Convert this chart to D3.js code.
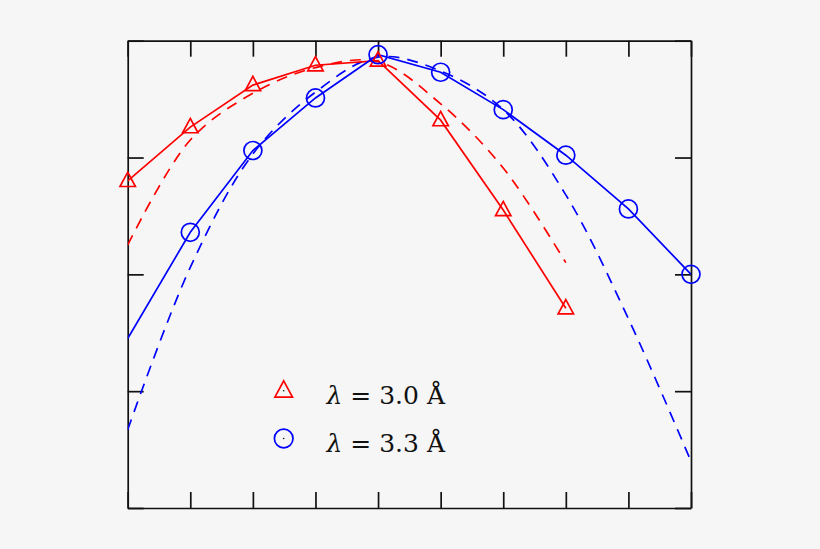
<!DOCTYPE html>
<html>
<head>
<meta charset="utf-8">
<script src="https://cdn.jsdelivr.net/npm/d3@7"></script>
<style>
  html, body { margin: 0; padding: 0; background: #f6f6f6; }
  svg { display: block; }
</style>
</head>
<body>
<div id="chart"></div>
<script>
// positions along x (no tick labels in the figure)
const xs = [0, 1, 2, 3, 4, 5, 6, 7, 8, 9];
const yTicks = [0, 1, 2, 3, 4];

// lambda = 3.0 A : markers + solid line, and the dashed companion
const red3Solid  = [2.80, 3.26, 3.62, 3.79, 3.83, 3.32, 2.55, 1.71];
const red3Dashed = [2.25, 3.15, 3.55, 3.77, 3.82, 3.46, 2.91, 2.10];

// lambda = 3.3 A
const blue33Solid  = [1.45, 2.36, 3.06, 3.51, 3.88, 3.73, 3.41, 3.02, 2.56, 2.00];
const blue33Dashed = [0.67, 2.06, 3.03, 3.56, 3.86, 3.74, 3.41, 2.68, 1.62, 0.40];

const legendLabels = ['3.0', '3.3'];

const W = 820, H = 549;
const pLeft = 127.7, pRight = 691, pTop = 40.7, pBottom = 508;
const red = '#ff0000', blue = '#0000ff';
const lw = 1.7;

const svg = d3.select('#chart').append('svg')
  .attr('width', W)
  .attr('height', H);

const x = d3.scaleLinear().domain([0, 9]).range([pLeft, pRight]);
const y = d3.scaleLinear().domain([0, 4]).range([pBottom, pTop]);

// box with inward ticks on all four sides
const tick = 16;
const axes = [
  [d3.axisBottom(x).tickValues(xs).tickSizeInner(-tick), `translate(0,${pBottom})`],
  [d3.axisTop(x).tickValues(xs).tickSizeInner(-tick), `translate(0,${pTop})`],
  [d3.axisLeft(y).tickValues(yTicks).tickSizeInner(-tick), `translate(${pLeft},0)`],
  [d3.axisRight(y).tickValues(yTicks).tickSizeInner(-tick), `translate(${pRight},0)`]
];
for (const [ax, tr] of axes) {
  const g = svg.append('g')
    .attr('transform', tr)
    .call(ax.tickSizeOuter(0).tickFormat(''));
  g.selectAll('path, line').attr('stroke', '#111').attr('stroke-width', 1.7);
}

const plot = svg.append('g');
plot.append('clipPath').attr('id', 'clip')
  .append('rect').attr('x', pLeft).attr('y', pTop)
  .attr('width', pRight - pLeft).attr('height', pBottom - pTop);

const lineStraight = d3.line().x((d, i) => x(i)).y(d => y(d));
const lineSmooth = d3.line().x((d, i) => x(i)).y(d => y(d)).curve(d3.curveCatmullRom.alpha(0.5));

const curves = [
  [red3Dashed, red, lineSmooth, '11,8'],
  [blue33Dashed, blue, lineSmooth, '11,8'],
  [red3Solid, red, lineStraight, null],
  [blue33Solid, blue, lineStraight, null]
];
for (const [data, col, gen, dash] of curves) {
  plot.append('path')
    .attr('clip-path', 'url(#clip)')
    .attr('d', gen(data))
    .attr('fill', 'none')
    .attr('stroke', col)
    .attr('stroke-width', lw)
    .attr('stroke-dasharray', dash);
}

const triPath = s => `M0,${-s * 0.62}L${s * 0.55},${s * 0.4}L${-s * 0.55},${s * 0.4}Z`;

// triangles for lambda = 3.0
plot.selectAll('.tri')
  .data(red3Solid)
  .enter().append('path')
  .attr('class', 'tri')
  .attr('transform', (d, i) => `translate(${x(i)},${y(d)})`)
  .attr('d', triPath(14))
  .attr('fill', 'none')
  .attr('stroke', red)
  .attr('stroke-width', lw);

// circles for lambda = 3.3 (no marker at the left edge)
plot.selectAll('.circ')
  .data(blue33Solid.map((v, i) => [i, v]).filter(d => d[0] > 0))
  .enter().append('circle')
  .attr('class', 'circ')
  .attr('cx', d => x(d[0]))
  .attr('cy', d => y(d[1]))
  .attr('r', 9)
  .attr('fill', 'none')
  .attr('stroke', blue)
  .attr('stroke-width', lw);

// legend
const legend = svg.append('g');
const rows = [[red, 'tri', 390.7], [blue, 'circ', 438.5]];
rows.forEach(([col, kind, ly], i) => {
  if (kind === 'tri') {
    legend.append('path')
      .attr('transform', `translate(283.7,${ly})`)
      .attr('d', triPath(16))
      .attr('fill', 'none').attr('stroke', col).attr('stroke-width', lw);
  } else {
    legend.append('circle')
      .attr('cx', 283.7).attr('cy', ly).attr('r', 9.3)
      .attr('fill', 'none').attr('stroke', col).attr('stroke-width', lw);
  }
  legend.append('circle')
    .attr('cx', 283.7).attr('cy', ly).attr('r', 0.8).attr('fill', '#111');

  const t = legend.append('text')
    .attr('x', 326.5).attr('y', ly + 13)
    .attr('font-family', '"DejaVu Serif", "Liberation Serif", serif')
    .attr('font-size', 25)
    .attr('fill', '#111');
  t.append('tspan').attr('font-style', 'italic').text('λ');
  t.append('tspan').text(` = ${legendLabels[i]} Å`);
});
</script>
</body>
</html>
